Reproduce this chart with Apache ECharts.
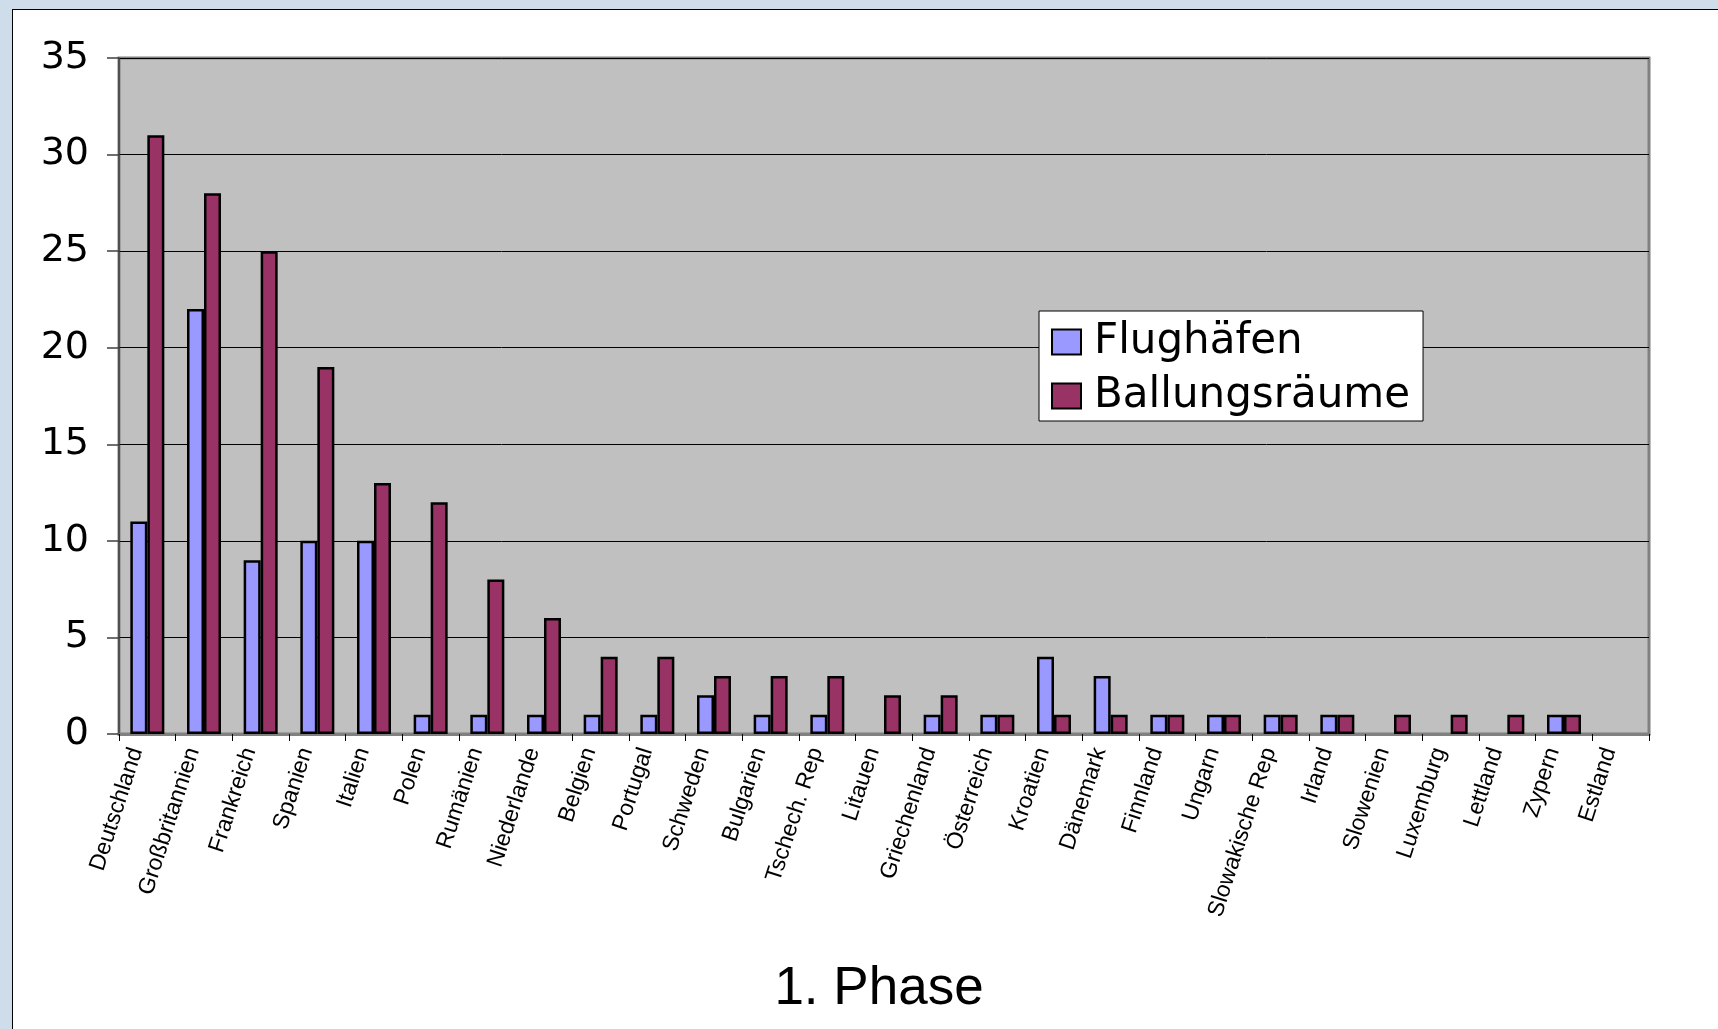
<!DOCTYPE html>
<html>
<head>
<meta charset="utf-8">
<script src="https://cdn.jsdelivr.net/npm/echarts@6/dist/echarts.min.js"></script>
<style>
  html, body { margin: 0; padding: 0; width: 1718px; height: 1029px; overflow: hidden; background: #cfdce9; }
  #panel { position: absolute; left: 12px; top: 9px; width: 1720px; height: 1040px; background: #fff; border: 1px solid #000; box-sizing: border-box; }
  #chart { position: absolute; left: 0; top: 0; width: 1718px; height: 1029px; }
</style>
</head>
<body>
<div id="panel"></div>
<div id="chart"></div>
<script>
const categories = ['Deutschland','Großbritannien','Frankreich','Spanien','Italien','Polen','Rumänien','Niederlande','Belgien','Portugal','Schweden','Bulgarien','Tschech. Rep','Litauen','Griechenland','Österreich','Kroatien','Dänemark','Finnland','Ungarn','Slowakische Rep','Irland','Slowenien','Luxemburg','Lettland','Zypern','Estland'];
const flughaefen = [11,22,9,10,10,1,1,1,1,1,2,1,1,0,1,1,4,3,1,1,1,1,0,0,0,1,0];
const ballungsraeume = [31,28,25,19,13,12,8,6,4,4,3,3,3,2,2,1,1,1,1,1,1,1,1,1,1,1,0];
const yTicks = { min: 0, max: 35, interval: 5 };
const seriesNames = ['Flughäfen', 'Ballungsräume'];
const chartTitle = '1. Phase';

const font = 'Liberation Sans, Arial, sans-serif';
const wideFont = 'DejaVu Sans, Liberation Sans, sans-serif';
const hideZero = arr => arr.map(v => v === 0 ? '-' : v);

const chart = echarts.init(document.getElementById('chart'), null, { renderer: 'canvas' });
chart.setOption({
  backgroundColor: 'transparent',
  animation: false,
  title: {
    text: chartTitle,
    left: 874, top: 958, textAlign: 'center',
    textStyle: { fontFamily: font, fontSize: 53, fontWeight: 'normal', color: '#000' }
  },
  legend: {
    data: seriesNames,
    orient: 'vertical',
    left: 1039, top: 311,
    backgroundColor: '#fff',
    borderColor: '#000', borderWidth: 1,
    padding: [10, 13, 4, 12],
    itemWidth: 29, itemHeight: 25, itemGap: 12,
    icon: 'rect',
    itemStyle: { borderColor: '#000', borderWidth: 2 },
    textStyle: { fontFamily: wideFont, fontSize: 42, lineHeight: 40, color: '#000', padding: [0, 0, 0, 8] }
  },
  grid: {
    left: 119, right: 69, top: 58, bottom: 295,
    show: true, backgroundColor: '#c0c0c0', borderColor: '#808080', borderWidth: 3
  },
  xAxis: {
    type: 'category',
    data: categories,
    boundaryGap: true,
    axisLine: { lineStyle: { color: '#808080', width: 3 } },
    axisTick: { show: true, length: 7, lineStyle: { color: '#000', width: 1 } },
    axisLabel: { rotate: 72, margin: 18, fontFamily: font, fontSize: 23, color: '#000', interval: 0, verticalAlign: 'bottom' }
  },
  yAxis: {
    type: 'value',
    min: yTicks.min, max: yTicks.max, interval: yTicks.interval,
    axisLine: { show: true, lineStyle: { color: '#404040', width: 1.5 } },
    axisTick: { show: true, length: 12, lineStyle: { color: '#404040', width: 1.5 } },
    axisLabel: { margin: 30, fontFamily: wideFont, fontSize: 38, color: '#000' },
    splitLine: { show: true, lineStyle: { color: '#000', width: 1 } }
  },
  series: [
    {
      name: seriesNames[0], type: 'bar', data: hideZero(flughaefen),
      barWidth: 17, barGap: '0%',
      itemStyle: { color: '#9999ff', borderColor: '#000', borderWidth: 2.5 }
    },
    {
      name: seriesNames[1], type: 'bar', data: hideZero(ballungsraeume),
      barWidth: 17, barGap: '0%',
      itemStyle: { color: '#993366', borderColor: '#000', borderWidth: 2.5 }
    }
  ]
});
</script>
</body>
</html>
